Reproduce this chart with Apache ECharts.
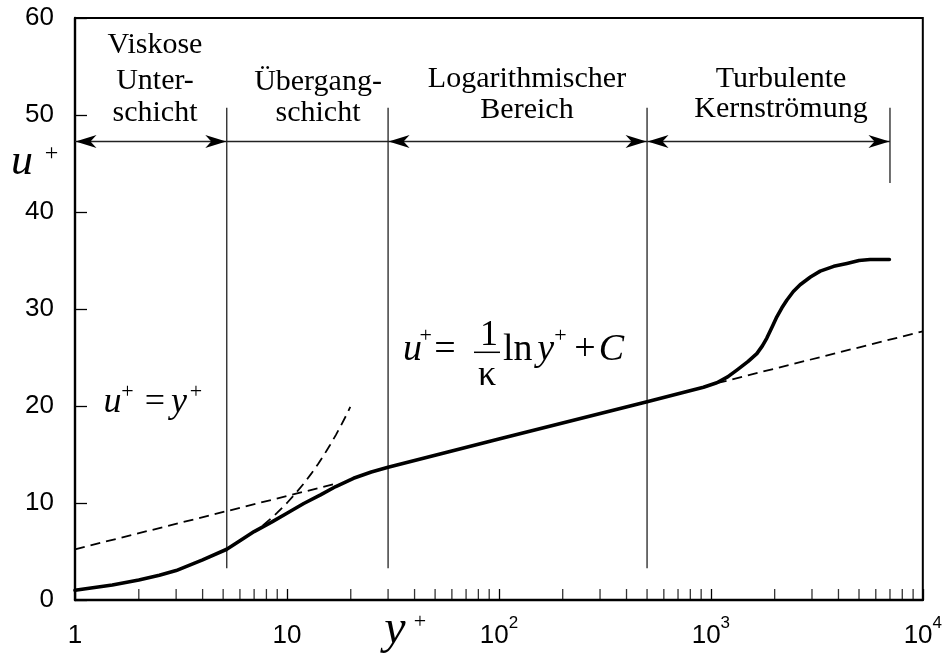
<!DOCTYPE html>
<html>
<head>
<meta charset="utf-8">
<script src="https://cdn.jsdelivr.net/npm/echarts@6/dist/echarts.min.js"></script>
<style>
html,body{margin:0;padding:0;background:#fff;}
#chart{width:945px;height:662px;}
</style>
</head>
<body>
<div id="chart"></div>
<script>
// ---- data ----
const profileYPlus = [1, 1.5, 2, 2.5, 3, 4, 5.2, 6, 7, 8.5, 10, 12, 14.4, 17, 20.6, 25, 30, 100, 500, 923, 1067, 1200, 1326, 1500, 1648, 1750, 1837, 1950, 2048, 2160, 2281, 2450, 2637, 2950, 3280, 3800, 4383, 5000, 5640, 6955];
const profileUPlus = [1.0, 1.55, 2.06, 2.55, 3.03, 4.13, 5.23, 6.1, 7.05, 8.05, 8.94, 9.95, 10.83, 11.7, 12.55, 13.2, 13.69, 16.6, 20.45, 21.94, 22.4, 23.0, 23.7, 24.6, 25.4, 26.2, 27.0, 28.2, 29.2, 30.1, 30.9, 31.8, 32.5, 33.3, 33.9, 34.4, 34.7, 35.0, 35.1, 35.1];

const linearLawYPlus = [7.7, 8.5, 9, 10, 11, 12, 13, 14, 15, 16, 17, 18, 19, 19.9];
const linearLawUPlus = [7.7, 8.5, 9, 10, 11, 12, 13, 14, 15, 16, 17, 18, 19, 19.9];

const logLawInnerYPlus = [1, 16.6];
const logLawInnerUPlus = [5.23, 11.93];
const logLawOuterYPlus = [1067, 10000];
const logLawOuterUPlus = [22.35, 27.7];

const regionNames = [['Viskose', 'Unter-', 'schicht'], ['Übergang-', 'schicht'], ['Logarithmischer', 'Bereich'], ['Turbulente', 'Kernströmung']];
const regionStart = [1, 5.2, 30, 500];
const regionEnd = [5.2, 30, 500, 7000];
const regionArrowLeft = [1, 0, 1, 1];
const regionArrowRight = [1, 0, 1, 1];
const arrowLevel = 47.27;

const boundaryYPlus = [5.2, 30, 500, 7000];
const boundaryBottom = [3.27, 3.27, 3.27, 43.0];
const boundaryTop = [50.75, 50.75, 50.75, 50.75];

const xTickValues = [1, 10, 100, 1000, 10000];
const xTickBase = ['1', '10', '10', '10', '10'];
const xTickSup = ['', '', '2', '3', '4'];
const xMinorTicks = [2,3,4,5,6,7,8,9, 20,30,40,50,60,70,80,90, 200,300,400,500,600,700,800,900, 2000,3000,4000,5000,6000,7000,8000,9000];
const yMin = 0, yMax = 60, yStep = 10;

// ---- chart ----
const SERIF = "'Liberation Serif','Times New Roman',serif";
const SANS = "'Liberation Sans',Arial,Helvetica,sans-serif";
const zip = (a, b) => a.map((v, i) => [v, b[i]]);

const chart = echarts.init(document.getElementById('chart'), null, {renderer: 'canvas'});

function txt(text, x, y, size, italic, align) {
  return {
    type: 'text', x: x, y: y, silent: true, z: 100,
    style: {
      text: text, fontFamily: SERIF, fontSize: size,
      fontStyle: italic ? 'italic' : 'normal', fill: '#000',
      align: align || 'center', verticalAlign: 'middle'
    }
  };
}

const graphics = [];
// region labels
const regionCenters = [155, 318, 527, 781];
const regionLineY = [[45.5, 81, 113.5], [82, 113.5], [79.5, 110.5], [79, 109.5]];
regionNames.forEach((lines, i) => {
  lines.forEach((t, j) => graphics.push(txt(t, regionCenters[i], regionLineY[i][j], 30, false)));
});
// axis names
graphics.push(txt('u', 22, 162, 44, true));
graphics.push(txt('+', 51.5, 154, 24, false));
graphics.push(txt('y', 395, 630.4, 48, true));
graphics.push(txt('+', 420, 622, 22, false));
// formula u+ = y+
graphics.push(txt('u', 112.5, 403, 36, true));
graphics.push(txt('+', 127.5, 392, 22, false));
graphics.push(txt('=', 155, 403, 36, false));
graphics.push(txt('y', 179, 403, 36, true));
graphics.push(txt('+', 196, 392, 22, false));
// formula u+ = 1/k ln y+ + C
graphics.push(txt('u', 412.5, 350.2, 38, true));
graphics.push(txt('+', 425.8, 336, 22, false));
graphics.push(txt('=', 445, 350.2, 38, false));
graphics.push(txt('1', 489, 336, 36, false));
graphics.push({type: 'line', silent: true, z: 100, shape: {x1: 474, y1: 352.3, x2: 500, y2: 352.3}, style: {stroke: '#000', lineWidth: 1.5}});
graphics.push(txt('κ', 487, 376, 36, false));
graphics.push(txt('ln', 503, 350.2, 38, false, 'left'));
graphics.push(txt('y', 545.8, 350.2, 38, true));
graphics.push(txt('+', 560.5, 336, 22, false));
graphics.push(txt('+', 585, 350.2, 38, false));
graphics.push(txt('C', 611.5, 350.2, 38, true));

const arrowData = regionStart.map((s, i) => [s, regionEnd[i], arrowLevel, regionArrowLeft[i], regionArrowRight[i]]);
const boundaryData = boundaryYPlus.map((x, i) => [x, boundaryBottom[i], boundaryTop[i]]);

function arrowHead(tipX, tipY, dir) {
  const L = 21, W = 6.5, N = 15;
  return {
    type: 'polygon',
    shape: {points: [[tipX, tipY], [tipX - dir * L, tipY - W], [tipX - dir * N, tipY], [tipX - dir * L, tipY + W]]},
    style: {fill: '#000'}
  };
}

const option = {
  animation: false,
  backgroundColor: '#fff',
  grid: {left: 75, right: 22, top: 18, bottom: 62, show: true, borderColor: '#000', borderWidth: 2, containLabel: false},
  xAxis: {
    type: 'log', logBase: 10, min: 1, max: 10000,
    axisLine: {onZero: false, lineStyle: {color: '#000', width: 2.4}},
    axisTick: {inside: true, length: 11, lineStyle: {color: '#000', width: 1.3}},
    splitLine: {show: false},
    axisLabel: {
      margin: 15, color: '#000', fontFamily: SANS, fontSize: 26,
      formatter: function (v) {
        const i = xTickValues.findIndex(t => Math.abs(t - v) / t < 1e-6);
        if (i < 0) return '';
        if (!xTickSup[i]) return '{b|' + xTickBase[i] + '}';
        return '{b|' + xTickBase[i] + '}{s|' + xTickSup[i] + '}';
      },
      rich: {
        b: {fontFamily: SANS, fontSize: 26, color: '#000', lineHeight: 34, verticalAlign: 'bottom'},
        s: {fontFamily: SANS, fontSize: 17, color: '#000', lineHeight: 17, verticalAlign: 'top'}
      }
    }
  },
  yAxis: {
    type: 'value', min: yMin, max: yMax, interval: yStep,
    axisLine: {onZero: false, lineStyle: {color: '#000', width: 2.4}},
    axisTick: {inside: true, length: 12, lineStyle: {color: '#000', width: 1.3}},
    splitLine: {show: false},
    axisLabel: {margin: 21, color: '#000', fontFamily: SANS, fontSize: 26}
  },
  graphic: graphics,
  series: [
    {
      type: 'line', data: zip(logLawInnerYPlus, logLawInnerUPlus), showSymbol: false, symbol: 'none',
      lineStyle: {color: '#000', width: 1.8, type: [10, 6]}, z: 3, silent: true
    },
    {
      type: 'line', data: zip(logLawOuterYPlus, logLawOuterUPlus), showSymbol: false, symbol: 'none',
      lineStyle: {color: '#000', width: 1.8, type: [10, 6]}, z: 3, silent: true
    },
    {
      type: 'line', data: zip(linearLawYPlus, linearLawUPlus), showSymbol: false, symbol: 'none',
      lineStyle: {color: '#000', width: 1.8, type: [10, 6]}, z: 3, silent: true
    },
    {
      type: 'line', data: zip(profileYPlus, profileUPlus), showSymbol: false, symbol: 'none',
      lineStyle: {color: '#000', width: 3.6, cap: 'round', join: 'round'}, z: 4, silent: true
    },
    {
      type: 'scatter', data: xMinorTicks.map(v => [v, yMin]), symbol: 'rect', symbolSize: [1.3, 11],
      symbolOffset: [0, -5.5], itemStyle: {color: '#000'}, clip: false, silent: true, z: 5
    },
    {
      type: 'custom', data: boundaryData, encode: {x: 0, y: [1, 2]}, silent: true, z: 2, clip: false,
      renderItem: function (params, api) {
        const p1 = api.coord([api.value(0), api.value(1)]);
        const p2 = api.coord([api.value(0), api.value(2)]);
        return {type: 'line', shape: {x1: p1[0], y1: p1[1], x2: p2[0], y2: p2[1]}, style: {stroke: '#222', lineWidth: 1.3}};
      }
    },
    {
      type: 'custom', data: arrowData, encode: {x: [0, 1], y: 2}, silent: true, z: 2, clip: false,
      renderItem: function (params, api) {
        const p1 = api.coord([api.value(0), api.value(2)]);
        const p2 = api.coord([api.value(1), api.value(2)]);
        const children = [{type: 'line', shape: {x1: p1[0], y1: p1[1], x2: p2[0], y2: p2[1]}, style: {stroke: '#222', lineWidth: 1.3}}];
        if (api.value(3)) children.push(arrowHead(p1[0] + 0.5, p1[1], -1));
        if (api.value(4)) children.push(arrowHead(p2[0] - 0.5, p2[1], 1));
        return {type: 'group', children: children};
      }
    }
  ]
};
chart.setOption(option);
</script>
</body>
</html>
